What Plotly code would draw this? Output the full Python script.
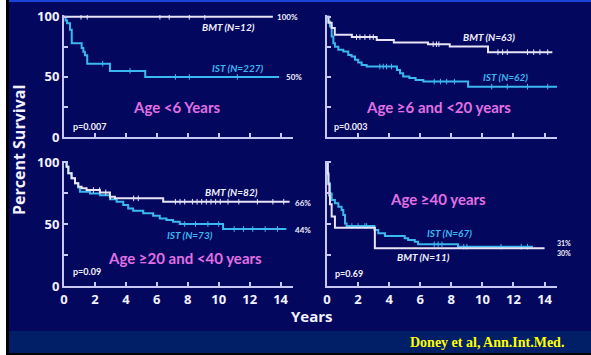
import numpy as np
import plotly.graph_objects as go

# ---------------- data ----------------
year_ticks = [0, 2, 4, 6, 8, 10, 12, 14]
pct_ticks = [0, 25, 50, 75, 100]
pct_ticktext = ["0", "", "50", "", "100"]

# Panel 1: Age <6 years
p1_bmt_t = [0, 13.5]
p1_bmt_s = [100, 100]
p1_bmt_cens = [1.1, 1.5, 6.2, 6.8, 8.1, 9.1]
p1_ist_t = [0, 0.1, 0.2, 0.39, 0.5, 1.14, 1.25, 1.35, 1.5, 2.97, 5.25, 13.9]
p1_ist_s = [100, 97, 94.7, 89.2, 78, 74, 71, 68, 61, 55, 50, 50]
p1_ist_cens = [2.5, 4.27, 7.2, 8.1, 11.2]

# Panel 2: Age >=6 and <20 years
p2_bmt_t = [0, 0.09, 0.3, 0.5, 1.6, 3.2, 4.3, 6.5, 7.9, 10.36, 14.5]
p2_bmt_s = [100, 95, 90.6, 85, 83.1, 80.8, 78.6, 77.2, 75.2, 70.6, 70.6]
p2_bmt_cens = [1.9, 2.12, 2.44, 2.76, 2.98, 6.83, 7.04, 7.2, 11.0, 11.3, 11.6, 12.9, 13.3, 13.7, 14.2]
p2_ist_t = [0, 0.1, 0.19, 0.3, 0.41, 0.51, 0.73, 1.05, 1.37, 1.58, 1.8, 2.01, 2.23,
            2.55, 4.5, 4.7, 4.9, 5.3, 5.7, 6.2, 9.08, 14.86]
p2_ist_s = [100, 96, 91.9, 83.6, 78.1, 75, 72.5, 71.1, 68.3, 66.9, 64.2, 62, 60,
            58.6, 55.8, 53.1, 50.3, 49, 47.5, 46.1, 41.9, 41.9]
p2_ist_cens = [3.4, 3.62, 3.83, 4.15, 6.9, 7.3, 7.7, 8.2, 10.6, 11.6, 12.9, 14.2]

# Panel 3: Age >=20 and <40 years
p3_bmt_t = [0, 0.17, 0.28, 0.49, 0.71, 0.92, 1.14, 1.46, 2.32, 2.97, 3.29, 6.41, 14.58]
p3_bmt_s = [100, 96.2, 90.9, 86.9, 82.8, 80.1, 78.8, 77.4, 75.5, 72, 70.7, 68, 68]
p3_bmt_cens = [1.9, 2.3, 2.7, 3.0, 4.5, 4.8, 7.2, 7.5, 7.8, 8.3, 8.6, 8.9, 9.2,
               9.5, 9.8, 10.1, 10.6, 11.3, 12.5, 13.5, 14.2]
p3_ist_t = [0, 0.17, 0.28, 0.49, 0.71, 0.92, 1.03, 1.68, 2.32, 2.97, 3.4, 3.83, 4.15,
            4.47, 5.12, 5.76, 6.19, 6.62, 7.05, 7.48, 10.28, 14.37]
p3_ist_s = [100, 96.2, 90.9, 86.9, 82.8, 79.5, 76, 74.6, 73.3, 69.9, 67.9, 65.3, 62.6,
            60.7, 58.6, 56.7, 54.5, 53.2, 51.8, 50, 46, 46]
p3_ist_cens = [7.8, 8.5, 9.3, 10.0, 11.0, 11.6, 12.2, 13.0, 13.8]

# Panel 4: Age >=40 years
p4_bmt_t = [0, 0.05, 0.09, 0.15, 0.19, 0.3, 0.51, 3.08, 14.0]
p4_bmt_s = [100, 91, 82, 73, 66, 56, 47, 30.5, 30.5]
p4_bmt_cens = []
p4_ist_t = [0, 0.05, 0.09, 0.19, 0.3, 0.51, 0.73, 0.94, 1.05, 1.16, 1.26, 3.05, 3.3,
            3.73, 5.0, 5.22, 5.65, 5.86, 8.43, 13.25]
p4_ist_s = [100, 90, 82.8, 74.7, 69.4, 66.7, 64, 61.3, 57.3, 50.5, 48.4, 45.2, 42.5,
            40.3, 38.5, 37.1, 35.7, 33.6, 31.7, 31.7]
p4_ist_cens = [1.6, 2.0, 2.44, 2.55, 6.9, 7.15, 7.4, 8.8, 9.0, 11.2, 12.5, 12.9]

# ---------------- style ----------------
BG = "#03075e"
BAND = "#001f66"
BMT_C = "#e8e4f6"
IST_C = "#3cb8f0"
AXIS_C = "#c8c8f4"
AGE_C = "#e070e4"
TXT_C = "#f2f2ff"
W, H = 591, 355

fig = go.Figure()

def step_at(t, s, x):
    i = np.searchsorted(np.array(t), x, side="right") - 1
    return float(np.array(s)[max(i, 0)])

def add_curve(t, s, cens, color, xa, ya):
    fig.add_trace(go.Scatter(x=t, y=s, mode="lines", line=dict(color=color, width=2, shape="hv"),
                             xaxis=xa, yaxis=ya, hoverinfo="skip", showlegend=False))
    if cens:
        fig.add_trace(go.Scatter(x=cens, y=[step_at(t, s, c) for c in cens], mode="markers",
                                 marker=dict(symbol="line-ns", size=4, line=dict(width=1, color=color)),
                                 xaxis=xa, yaxis=ya, hoverinfo="skip", showlegend=False))

panels = [
    ("x", "y", p1_bmt_t, p1_bmt_s, p1_bmt_cens, p1_ist_t, p1_ist_s, p1_ist_cens),
    ("x2", "y2", p2_bmt_t, p2_bmt_s, p2_bmt_cens, p2_ist_t, p2_ist_s, p2_ist_cens),
    ("x3", "y3", p3_bmt_t, p3_bmt_s, p3_bmt_cens, p3_ist_t, p3_ist_s, p3_ist_cens),
    ("x4", "y4", p4_bmt_t, p4_bmt_s, p4_bmt_cens, p4_ist_t, p4_ist_s, p4_ist_cens),
]
for xa, ya, bt, bs, bc, it, is_, ic in panels:
    add_curve(it, is_, ic, IST_C, xa, ya)
    add_curve(bt, bs, bc, BMT_C, xa, ya)

def px_x(a, b):
    return [a / W, b / W]

def px_y(top, bottom):
    return [1 - bottom / H, 1 - top / H]

tickfont = dict(family="Open Sans", size=13, color=TXT_C, weight="bold")

def xaxis(dom, anchor, labels):
    return dict(domain=dom, anchor=anchor, range=[0, 14.8], tickvals=year_ticks,
                ticks="inside", ticklen=4, tickwidth=1.5, tickcolor=AXIS_C,
                showline=True, linecolor=AXIS_C, linewidth=2, showgrid=False, zeroline=False,
                showticklabels=labels, tickfont=tickfont, fixedrange=True, automargin=False)

def yaxis(dom, anchor, rng, labels):
    return dict(domain=dom, anchor=anchor, range=rng, tickvals=pct_ticks, ticktext=pct_ticktext,
                ticks="inside", ticklen=4, tickwidth=1.5, tickcolor=AXIS_C,
                showline=True, linecolor=AXIS_C, linewidth=2, showgrid=False, zeroline=False,
                showticklabels=labels, tickfont=tickfont, fixedrange=True, automargin=False)

top_dom = px_y(15, 137)
bot_dom = px_y(160.8, 286)
left_dom = px_x(64, 293)
right_dom = px_x(327, 557)

fig.update_layout(
    width=W, height=H, margin=dict(l=0, r=0, t=0, b=0, pad=0), autosize=False,
    paper_bgcolor=BG, plot_bgcolor="rgba(0,0,0,0)", showlegend=False,
    xaxis=xaxis(left_dom, "y", False), yaxis=yaxis(top_dom, "x", [0, 101.5], True),
    xaxis2=xaxis(right_dom, "y2", False), yaxis2=yaxis(top_dom, "x2", [0, 101.5], False),
    xaxis3=xaxis(left_dom, "y3", True), yaxis3=yaxis(bot_dom, "x3", [0, 101], True),
    xaxis4=xaxis(right_dom, "y4", True), yaxis4=yaxis(bot_dom, "x4", [0, 101], False),
)

# frame decorations
shapes = [
    dict(type="rect", xref="paper", yref="paper", x0=0, x1=1, y0=1 - 353 / H, y1=1 - 331 / H,
         fillcolor=BAND, line_width=0, layer="below"),
    dict(type="rect", xref="paper", yref="paper", x0=0, x1=1, y0=0, y1=1 - 353 / H,
         fillcolor="#000000", line_width=0, layer="below"),
    dict(type="rect", xref="paper", yref="paper", x0=0, x1=1, y0=1 - 2 / H, y1=1,
         fillcolor="#1a44d8", line_width=0, layer="below"),
    dict(type="rect", xref="paper", yref="paper", x0=0, x1=6 / W, y0=0, y1=1,
         fillcolor="#ffffff", line_width=0, layer="below"),
    dict(type="rect", xref="paper", yref="paper", x0=6 / W, x1=9 / W, y0=0, y1=1,
         fillcolor="#000000", line_width=0, layer="below"),
]
fig.update_layout(shapes=shapes)

LBL = dict(family="Lato", size=10, weight="bold", style="italic")
SM = dict(family="Lato", size=8, color=TXT_C, weight="bold")
PV = dict(family="Lato", size=9, color=TXT_C, weight="bold")
SM7 = dict(family="Lato", size=7, color=TXT_C, weight="bold")
AGE = dict(family="Lato", size=15, color=AGE_C, weight="bold")

def ann(text, x, y, xr, yr, font, xanchor="center"):
    fig.add_annotation(text=text, x=x, y=y, xref=xr, yref=yr, showarrow=False,
                       font=font, xanchor=xanchor, yanchor="middle")

# Panel 1
ann("BMT (N=12)", 10.6, 91.5, "x", "y", dict(LBL, color=TXT_C))
ann("100%", 13.64, 100, "x", "y", SM, "left")
ann("IST (N=227)", 11.25, 57, "x", "y", dict(LBL, color=IST_C))
ann("50%", 14.2, 50, "x", "y", SM, "left")
ann("Age <6 Years", 7.3, 25, "x", "y", AGE)
ann("p=0.007", 0.45, 9, "x", "y", PV, "left")
# Panel 2
ann("BMT (N=63)", 10.45, 83.5, "x2", "y2", dict(LBL, color=TXT_C))
ann("71%", 14.86, 70, "x2", "y2", SM, "left")
ann("IST (N=62)", 11.5, 50, "x2", "y2", dict(LBL, color=IST_C))
ann("43%", 15.1, 42.5, "x2", "y2", SM, "left")
ann("Age \u22656 and <20 years", 7.17, 25, "x2", "y2", AGE)
ann("p=0.003", 0.35, 9, "x2", "y2", PV, "left")
# Panel 3
ann("BMT (N=82)", 10.83, 75.5, "x3", "y3", dict(LBL, color=TXT_C))
ann("66%", 14.8, 67, "x3", "y3", SM, "left")
ann("IST (N=73)", 8.14, 41, "x3", "y3", dict(LBL, color=IST_C))
ann("44%", 14.8, 45, "x3", "y3", SM, "left")
ann("Age \u226520 and <40 years", 7.8, 22.5, "x3", "y3", AGE)
ann("p=0.09", 0.45, 11.3, "x3", "y3", PV, "left")
# Panel 4
ann("Age \u226540 years", 7.16, 70.5, "x4", "y4", AGE)
ann("IST (N=67)", 7.9, 43, "x4", "y4", dict(LBL, color=IST_C))
ann("BMT (N=11)", 6.2, 23, "x4", "y4", dict(LBL, color=TXT_C))
ann("31%", 14.64, 34.5, "x4", "y4", SM7, "left")
ann("30%", 14.64, 27, "x4", "y4", SM7, "left")
ann("p=0.69", 0.4, 10, "x4", "y4", PV, "left")

# Titles
fig.add_annotation(text="Percent Survival", x=19 / W, y=1 - 150 / H, xref="paper", yref="paper",
                   showarrow=False, textangle=-90, xanchor="center", yanchor="middle",
                   font=dict(family="Open Sans", size=16, color=TXT_C, weight="bold"))
fig.add_annotation(text="Years", x=312 / W, y=1 - 316 / H, xref="paper", yref="paper",
                   showarrow=False, xanchor="center", yanchor="middle",
                   font=dict(family="Open Sans", size=15, color=TXT_C, weight="bold"))
fig.add_annotation(text="Doney et al, Ann.Int.Med.", x=487 / W, y=1 - 342 / H, xref="paper",
                   yref="paper", showarrow=False, xanchor="center", yanchor="middle",
                   font=dict(family="Liberation Serif", size=14, color="#ffff00", weight="bold"))

fig.write_html("out.html", config={"displayModeBar": False},
               post_script="document.body.style.margin='0';document.body.style.overflow='hidden';")
